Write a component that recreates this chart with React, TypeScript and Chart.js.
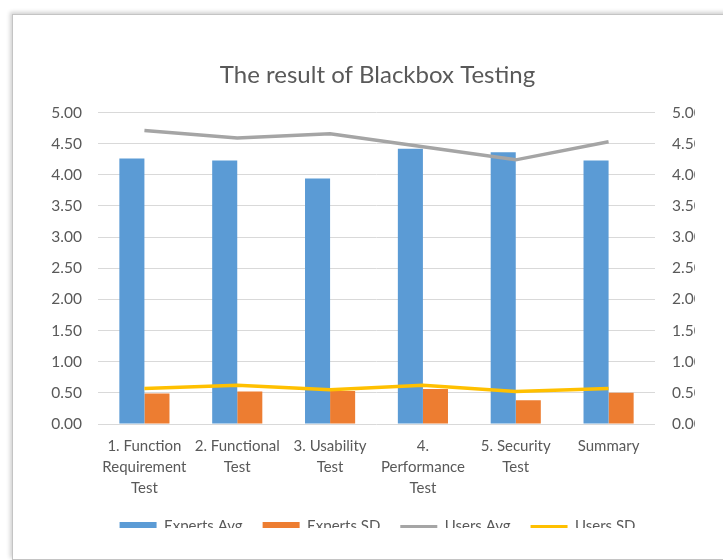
import React, { useEffect, useRef } from "react";
import { Chart, registerables } from "chart.js";

Chart.register(...registerables);

const categories: string[][] = [
  ["1. Function", "Requirement", "Test"],
  ["2. Functional", "Test"],
  ["3. Usability", "Test"],
  ["4.", "Performance", "Test"],
  ["5. Security", "Test"],
  ["Summary"],
];
const expertsAvg = [4.26, 4.23, 3.94, 4.42, 4.36, 4.23];
const expertsSD = [0.49, 0.52, 0.53, 0.56, 0.38, 0.5];
const usersAvg = [4.71, 4.59, 4.66, 4.45, 4.24, 4.53];
const usersSD = [0.57, 0.62, 0.55, 0.62, 0.52, 0.57];
const seriesNames = ["Experts Avg", "Experts SD", "Users Avg", "Users SD"];
const titleText = "The result of Blackbox Testing";
const axisMin = 0;
const axisMax = 5;
const axisStep = 0.5;

const BLUE = "#5B9BD5";
const ORANGE = "#ED7D31";
const GREY = "#A5A5A5";
const YELLOW = "#FFC000";
const TEXT = "#595959";
const GRID = "#D9D9D9";
const FONT = "Lato, 'Open Sans', sans-serif";

export default function App() {
  const ref = useRef<HTMLCanvasElement | null>(null);

  useEffect(() => {
    if (!ref.current) return;
    const chart = new Chart(ref.current, {
      type: "bar",
      data: {
        labels: categories as any,
        datasets: [
          {
            type: "bar",
            label: seriesNames[0],
            data: expertsAvg,
            backgroundColor: BLUE,
            borderWidth: 0,
            yAxisID: "y",
            order: 2,
            categoryPercentage: 0.54,
            barPercentage: 1,
          } as any,
          {
            type: "bar",
            label: seriesNames[1],
            data: expertsSD,
            backgroundColor: ORANGE,
            borderWidth: 0,
            yAxisID: "y",
            order: 2,
            categoryPercentage: 0.54,
            barPercentage: 1,
          } as any,
          {
            type: "line",
            label: seriesNames[2],
            data: usersAvg,
            borderColor: GREY,
            backgroundColor: GREY,
            borderWidth: 3.5,
            pointRadius: 0,
            tension: 0,
            yAxisID: "y1",
            order: 1,
          } as any,
          {
            type: "line",
            label: seriesNames[3],
            data: usersSD,
            borderColor: YELLOW,
            backgroundColor: YELLOW,
            borderWidth: 3.5,
            pointRadius: 0,
            tension: 0,
            yAxisID: "y1",
            order: 1,
          } as any,
        ],
      },
      options: {
        responsive: false,
        animation: false,
        layout: { padding: { top: 0, bottom: 11, left: 0, right: 0 } },
        plugins: {
          tooltip: { enabled: false },
          title: {
            display: true,
            text: titleText,
            color: TEXT,
            font: { family: FONT, size: 24, weight: "normal", lineHeight: 1.2 },
            padding: { top: 45.6, bottom: 23.1 },
          },
          legend: {
            position: "bottom",
            labels: {
              color: TEXT,
              font: { family: FONT, size: 15 },
              usePointStyle: true,
              pointStyleWidth: 37,
              boxHeight: 9,
              padding: 20,
              sort: (a: any, b: any) => a.datasetIndex - b.datasetIndex,
              generateLabels: (c: any) => {
                const items = Chart.defaults.plugins.legend.labels.generateLabels(c);
                return items.map((it: any) => {
                  const ds = c.data.datasets[it.datasetIndex];
                  if (ds.type === "line") {
                    return { ...it, pointStyle: "line", lineWidth: 3, strokeStyle: ds.borderColor, fillStyle: ds.borderColor };
                  }
                  return { ...it, pointStyle: "rect", lineWidth: 0, fillStyle: ds.backgroundColor, strokeStyle: ds.backgroundColor };
                });
              },
            },
          },
        },
        scales: {
          x: {
            grid: { display: false, drawTicks: false },
            border: { display: false },
            ticks: {
              color: TEXT,
              font: { family: FONT, size: 15, lineHeight: 1.4 },
              padding: 11.5,
              maxRotation: 0,
              autoSkip: false,
            },
            afterFit: (s: any) => {
              s.height = 75;
            },
          },
          y: {
            position: "left",
            min: axisMin,
            max: axisMax,
            grid: { color: GRID, lineWidth: 1, drawTicks: false },
            border: { display: false },
            ticks: {
              stepSize: axisStep,
              color: TEXT,
              font: { family: FONT, size: 15.5 },
              padding: 16,
              callback: (v: any) => Number(v).toFixed(2),
            },
            afterFit: (s: any) => {
              s.width = 85;
            },
          },
          y1: {
            position: "right",
            min: axisMin,
            max: axisMax,
            grid: { display: false, drawTicks: false },
            border: { display: false },
            ticks: {
              stepSize: axisStep,
              color: TEXT,
              font: { family: FONT, size: 15.5 },
              padding: 17,
              callback: (v: any) => Number(v).toFixed(2),
            },
            afterFit: (s: any) => {
              s.width = 87;
            },
          },
        },
      } as any,
    });
    return () => chart.destroy();
  }, []);

  return (
    <div
      style={{
        position: "fixed",
        left: 0,
        top: 0,
        width: 723,
        height: 560,
        overflow: "hidden",
        background: "#fff",
      }}
    >
      <div
        style={{
          position: "absolute",
          left: 12,
          top: 14,
          width: 780,
          height: 544,
          border: "1px solid #c4c4c4",
          boxShadow: "-2px -2px 4px rgba(0,0,0,0.18)",
          background: "#fff",
        }}
      >
        <div
          style={{
            position: "absolute",
            left: 0,
            top: 0,
            width: 682,
            height: 513,
            overflow: "hidden",
          }}
        >
          <canvas ref={ref} width={729} height={540} style={{ display: "block", width: 729, height: 540 }} />
        </div>
      </div>
    </div>
  );
}
